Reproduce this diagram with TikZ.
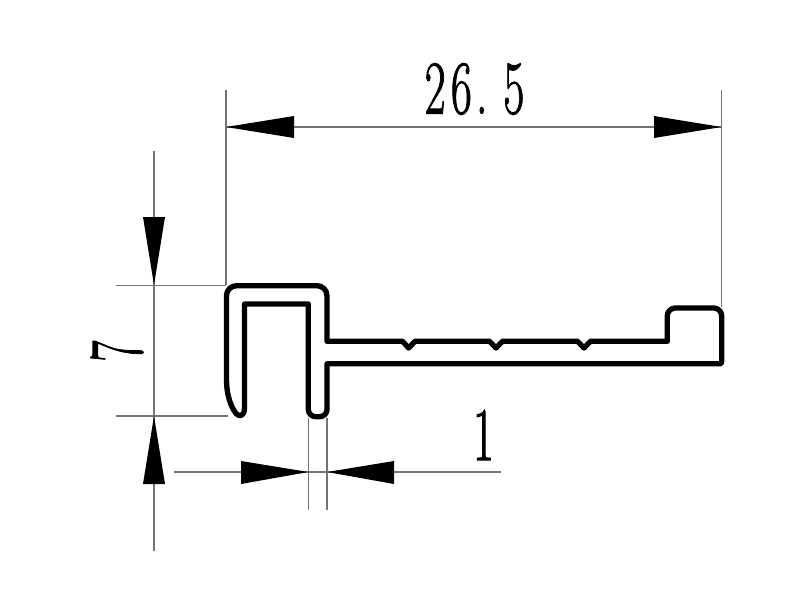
\documentclass[tikz,border=0pt]{standalone}
\usepackage{fontspec}
\newfontfamily\dimfont[FakeBold=1.6]{Latin Modern Roman}
\newcommand{\bigdim}[1]{\dimfont\fontsize{57}{57}\selectfont\scalebox{0.6}[1]{#1}}
\newcommand{\dcell}[1]{\makebox[32.8pt][c]{#1}}
\tikzset{
  profile/.style={draw=black,line width=4pt,line join=round,line cap=round},
  dimline/.style={draw=black!55,line width=0.8pt},
  dimhead/.style={fill=black,draw=none},
  dimtext/.style={inner sep=0pt,outer sep=0pt,text=black}
}
\begin{document}
\begin{tikzpicture}[x=0.75pt,y=-0.75pt]
\useasboundingbox (0,0) rectangle (800,600);
\fill[white] (0,0) rectangle (800,600);
% extension and dimension lines
\draw[dimline] (226,90) -- (226,285);
\draw[dimline] (721.5,90) -- (721.5,307);
\draw[dimline] (226,127) -- (721.5,127);
\draw[dimline] (116,285.5) -- (226,285.5);
\draw[dimline] (116,416) -- (228,416);
\draw[dimline] (154,151) -- (154,551);
\draw[dimline] (174,472) -- (501,472);
\draw[dimline] (308.5,418) -- (308.5,510);
\draw[dimline] (327,418) -- (327,510);
% arrowheads
\fill[dimhead] (226,127) -- (294,116) -- (294,138) -- cycle;
\fill[dimhead] (721.5,127) -- (654,116) -- (654,138) -- cycle;
\fill[dimhead] (154,285) -- (143,217) -- (165,217) -- cycle;
\fill[dimhead] (154,416) -- (143,484) -- (165,484) -- cycle;
\fill[dimhead] (308.5,472) -- (241,461) -- (241,484) -- cycle;
\fill[dimhead] (327,472) -- (394,461) -- (394,484) -- cycle;
% profile
\path[profile]
  (244.5,408) [sharp corners] -- (244.5,304) -- (308.3,304)
  [rounded corners=5.5pt] -- (308.3,416.7) -- (327,416.7)
  [sharp corners] -- (327,363.8)
  [rounded corners=1.5pt] -- (721.7,363.8) [rounded corners=6pt] -- (721.7,308) -- (667.3,308)
  [sharp corners] -- (667.3,341.3)
  -- (590.5,341.3) -- (584,348) -- (577.5,341.3)
  -- (502.5,341.3) -- (496,348) -- (489.5,341.3)
  -- (415,341.3) -- (408.7,348) -- (402.5,341.3)
  -- (327,341.3)
  [rounded corners=7.5pt] -- (327,285.7) -- (226.5,285.7)
  [sharp corners] -- (226.5,380)
  .. controls (226.5,395) and (231,407) .. (236,413.5)
  .. controls (239.5,417.5) and (244.5,416) .. (244.5,408);
% labels
\node[dimtext] (lenlabel) at (474.5,89) {\bigdim{\dcell{2}\dcell{6}\makebox[32.8pt][l]{\hspace{2pt}.}\dcell{5}}};
\node[dimtext] (thicklabel) at (483.5,435) {\bigdim{1}};
\node[dimtext,rotate=90] (heightlabel) at (117,351) {\bigdim{7}};
\end{tikzpicture}
\end{document}
